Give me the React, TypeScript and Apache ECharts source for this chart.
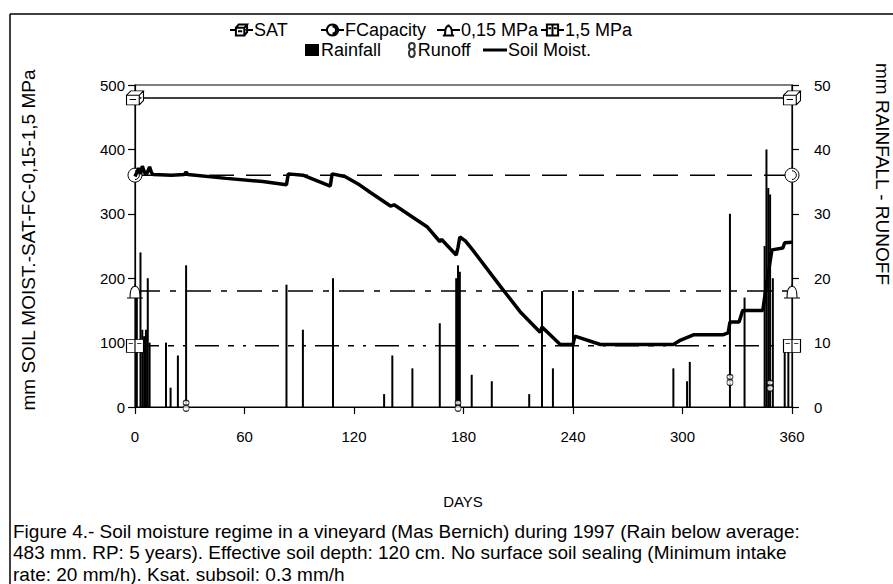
import React, { useEffect, useRef } from "react";
import * as echarts from "echarts";

const FONT = "'Liberation Sans', Arial, Helvetica, sans-serif";

// x axis (days)
const dayTicks = [0, 60, 120, 180, 240, 300, 360];

// reference levels (mm)
const satLevel = 480;
const fcLevel = 360;
const mpa015Level = 180;
const mpa15Level = 95;

// soil moisture [day, mm]
const soilMoisture: [number, number][] = [
  [0, 358], [1, 364], [2, 371], [3, 362], [4, 374], [5, 366], [6, 360], [7, 366],
  [8, 373], [9, 364], [10, 361], [20, 360], [27, 361], [28, 365], [29, 361],
  [50, 355], [70, 350], [83, 345], [84, 362], [92, 360], [107, 343], [108, 362],
  [115, 358], [123, 345], [129, 333], [140, 312], [142, 314], [152, 295], [160, 280],
  [167, 257], [168, 260], [176, 236], [177, 248], [178, 264], [181, 258], [185, 244],
  [200, 188], [211, 148], [222, 116], [223, 124], [226, 116], [233, 97], [240, 97],
  [241, 110], [255, 97], [295, 97], [299, 104], [306, 112], [322, 112], [325, 115],
  [326, 132], [331, 132], [333, 150], [344, 150], [346, 190], [348, 226], [349, 244],
  [355, 247], [356, 255], [360, 256],
];

// rainfall [day, mm]
const rainfall: [number, number][] = [
  [1, 18], [3, 24], [4, 12], [5, 11], [6, 12], [7, 20], [8, 10], [17, 10], [19.5, 3],
  [23.5, 8], [28, 22], [83, 19], [92, 12], [108.5, 20], [136.5, 2], [141, 8], [152, 6],
  [167, 13], [176, 20], [177, 22], [178, 21], [184.5, 5], [195.5, 4], [216, 2], [223, 18],
  [229, 6], [240, 18], [295, 6], [302.5, 4], [304, 7], [326, 30], [334, 17], [345, 25],
  [346, 40], [347, 34], [348, 33], [349.5, 20], [356, 10], [358, 10],
];

// runoff [day, mm]
const runoff: [number, number][] = [
  [28, 0.2], [177, 0.2], [326, 4.2], [348, 3.3],
];

const captionLines = [
  "Figure 4.- Soil moisture regime in a vineyard (Mas Bernich) during 1997 (Rain below average:",
  "483 mm. RP: 5 years). Effective soil depth: 120 cm. No surface soil sealing (Minimum intake",
  "rate: 20 mm/h). Ksat. subsoil: 0.3 mm/h",
];

const SYM_SAT = "path://M0,5 L12,5 L12,14 L0,14 Z M0,5 L4,1 L16,1 L12,5 M16,1 L16,10 L12,14 M3,9 L9,9";
const SYM_FC = "path://M8,0 A8,8 0 1 1 7.99,0 Z M8,3 A5,5 0 0 1 8,13";
const SYM_015 = "path://M3,13 C3,4 5,2 8,2 C11,2 13,4 13,13 Z M0,13 L16,13 M8,0 L8,2";
const SYM_15 = "path://M0,0 L16,0 L16,12 L0,12 Z M8,0 L8,12 M2,4 L6,4 M10,4 L14,4";
const SYM_RUNOFF = "path://M3,0 C6,0 6,5 3,5 C0,5 0,0 3,0 Z M3,5 C6,5 6,11 3,11 C0,11 0,5 3,5 Z";

function refLine(name: string, level: number, symbol: string, dash: any, size: any) {
  return {
    name,
    type: "line",
    yAxisIndex: 0,
    data: [[0, level], [360, level]],
    symbol,
    symbolSize: size,
    showSymbol: true,
    lineStyle: { color: "#000", width: 1.5, type: dash },
    itemStyle: { color: "#fff", borderColor: "#000", borderWidth: 1 },
    z: 3,
  };
}

function legendAt(name: string, left: number, top: number, extra: any = {}) {
  return {
    data: [name],
    left,
    top,
    padding: 0,
    itemGap: 0,
    itemWidth: 23,
    itemHeight: 14,
    textStyle: { fontSize: 18, color: "#000", fontFamily: FONT, padding: [0, 0, 0, -4] },
    selectedMode: false,
    ...extra,
  };
}

export default function App() {
  const ref = useRef<HTMLDivElement>(null);
  useEffect(() => {
    if (!ref.current) return;
    const chart = echarts.init(ref.current, undefined, { renderer: "svg" });
    const axisLine = { show: true, lineStyle: { color: "#000", width: 1.2 } };
    const axisTick = { show: true, inside: false, length: 7, lineStyle: { color: "#000", width: 1.2 } };
    const labelStyle = { color: "#000", fontSize: 15, fontFamily: FONT };
    chart.setOption({
      animation: false,
      backgroundColor: "#fff",
      grid: {
        left: 135, right: 101, top: 85, bottom: 177,
        show: true, borderColor: "#000", borderWidth: 1.2, backgroundColor: "transparent",
      },
      legend: [
        legendAt("SAT", 229, 21),
        legendAt("FCapacity", 320, 21),
        legendAt("0,15 MPa", 436, 21),
        legendAt("1,5 MPa", 540, 21),
        legendAt("Rainfall", 305, 41, { icon: "rect", itemWidth: 14, itemHeight: 12, textStyle: { fontSize: 18, color: "#000", fontFamily: FONT, padding: [0, 0, 0, -3] } }),
        legendAt("Runoff", 408, 41, { itemWidth: 10 }),
        legendAt("Soil Moist.", 483, 41, { icon: "rect", itemWidth: 24, itemHeight: 3 }),
      ],
      xAxis: {
        type: "value",
        min: 0,
        max: 360,
        interval: 60,
        axisLine,
        axisTick,
        splitLine: { show: false },
        axisLabel: { ...labelStyle, margin: 22, customValues: dayTicks },
      },
      yAxis: [
        {
          type: "value",
          min: 0,
          max: 500,
          interval: 100,
          position: "left",
          axisLine,
          axisTick,
          splitLine: { show: false },
          axisLabel: { ...labelStyle, margin: 10 },
        },
        {
          type: "value",
          min: 0,
          max: 50,
          interval: 10,
          position: "right",
          axisLine,
          axisTick,
          splitLine: { show: false },
          axisLabel: { ...labelStyle, margin: 22 },
        },
      ],
      series: [
        {
          name: "Rainfall",
          type: "bar",
          yAxisIndex: 1,
          data: rainfall,
          barWidth: 2,
          itemStyle: { color: "#000" },
          z: 2,
        },
        refLine("SAT", satLevel, SYM_SAT, "solid", [17, 14]),
        refLine("FCapacity", fcLevel, SYM_FC, [25, 12], [14, 14]),
        refLine("0,15 MPa", mpa015Level, SYM_015, [25, 10, 6, 10], [16, 14]),
        refLine("1,5 MPa", mpa15Level, SYM_15, [24, 9, 6, 9, 3, 9], [17, 13]),
        {
          name: "Soil Moist.",
          type: "line",
          yAxisIndex: 0,
          data: soilMoisture,
          symbol: "none",
          showSymbol: false,
          lineStyle: { color: "#000", width: 3.5 },
          itemStyle: { color: "#000" },
          z: 4,
        },
        {
          name: "Runoff",
          type: "scatter",
          yAxisIndex: 1,
          data: runoff,
          symbol: SYM_RUNOFF,
          symbolSize: [6, 11],
          itemStyle: { color: "#fff", borderColor: "#000", borderWidth: 1 },
          z: 5,
        },
      ],
      graphic: [
        { type: "line", shape: { x1: 10, y1: 14, x2: 893, y2: 14 }, style: { stroke: "#000", lineWidth: 1.5 } },
        { type: "line", shape: { x1: 10, y1: 14, x2: 10, y2: 584 }, style: { stroke: "#000", lineWidth: 1.5 } },
        {
          type: "text", x: 28, y: 240, rotation: Math.PI / 2,
          style: { text: "mm SOIL MOIST.-SAT-FC-0,15-1,5 MPa", fill: "#000", font: `19px ${FONT}`, align: "center", verticalAlign: "middle" },
        },
        {
          type: "text", x: 882, y: 174, rotation: -Math.PI / 2,
          style: { text: "mm RAINFALL - RUNOFF", fill: "#000", font: `19px ${FONT}`, align: "center", verticalAlign: "middle" },
        },
        {
          type: "text", x: 463, y: 501,
          style: { text: "DAYS", fill: "#000", font: `15px ${FONT}`, align: "center", verticalAlign: "middle" },
        },
        ...captionLines.map((t, i) => ({
          type: "text", x: 13, y: 531 + i * 21.5,
          style: { text: t, fill: "#000", font: `19px ${FONT}`, align: "left", verticalAlign: "middle" },
        })),
      ],
    });
    return () => chart.dispose();
  }, []);
  return (
    <div
      ref={ref}
      style={{ position: "fixed", left: 0, top: 0, width: 893, height: 584, background: "#fff" }}
    />
  );
}
